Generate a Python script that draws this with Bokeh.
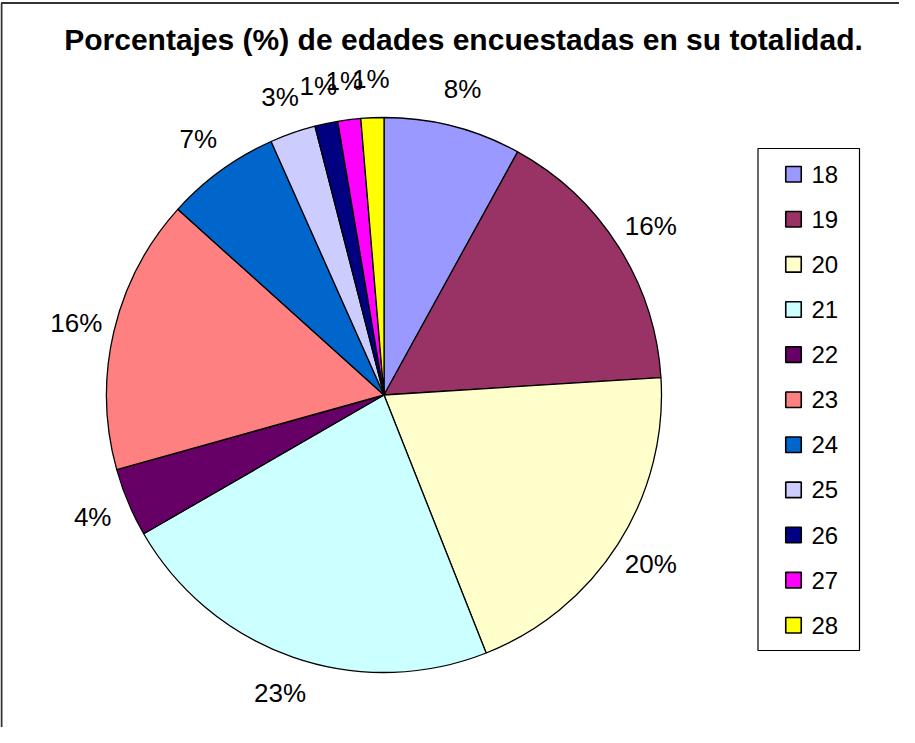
import math
from bokeh.plotting import figure
from bokeh.models import ColumnDataSource
from bokeh.core.properties import value
from bokeh.embed import file_html
from bokeh.resources import INLINE

# ---- data ----
ages = ["18", "19", "20", "21", "22", "23", "24", "25", "26", "27", "28"]
counts = [6, 12, 15, 17, 3, 12, 5, 2, 1, 1, 1]
colors = ["#9999FF", "#993366", "#FFFFCC", "#CCFFFF", "#660066", "#FF8080",
          "#0066CC", "#CCCCFF", "#000080", "#FF00FF", "#FFFF00"]
title_text = "Porcentajes (%) de edades encuestadas en su totalidad."

W, H = 899, 727
FONT = "Liberation Sans"

total = sum(counts)
fracs = [c / total for c in counts]
cum = [0.0]
for f in fracs:
    cum.append(cum[-1] + f)

cx, cy, R = 383.5, 332.5, 277.5
starts = [math.pi / 2 - 2 * math.pi * cum[i + 1] for i in range(len(counts))]
ends = [math.pi / 2 - 2 * math.pi * cum[i] for i in range(len(counts))]
mids = [math.pi / 2 - 2 * math.pi * (cum[i] + cum[i + 1]) / 2 for i in range(len(counts))]
RL = 316
labels = ["%d%%" % round(100 * f) for f in fracs]

src = ColumnDataSource(dict(
    age=ages, start=starts, end=ends, color=colors, label=labels,
    lx=[cx + RL * math.cos(a) for a in mids],
    ly=[cy + RL * math.sin(a) for a in mids],
))

p = figure(width=W, height=H, x_range=(0, W), y_range=(0, H),
           x_axis_type=None, y_axis_type=None, toolbar_location=None,
           output_backend="svg", min_border=0, outline_line_color=None,
           background_fill_color="white", border_fill_color="white")

# outer chart border (extends past the visible window on right/bottom)
p.quad(left=1, right=W + 50, bottom=-50, top=724.5, fill_color=None,
       line_color="#333333", line_width=2)

p.wedge(x=cx, y=cy, radius=R, start_angle="start", end_angle="end",
        direction="anticlock", fill_color="color", line_color="black",
        line_width=1.3, source=src)

p.text(x="lx", y="ly", text="label", source=src, text_align="center",
       text_baseline="middle", text_font=value(FONT), text_font_size="26px",
       text_color="black")

p.text(x=[463], y=[688], text=[title_text], text_align="center",
       text_baseline="alphabetic", text_font=value(FONT), text_font_size="30px",
       text_font_style="bold", text_color="black")

# legend
lx0, lx1, ly_top, ly_bot = 757.5, 859, 579, 77
p.quad(left=lx0, right=lx1, bottom=ly_bot, top=ly_top, fill_color="white",
       line_color="black", line_width=1.2)
step = 45.1
leg_y = [553.3 - i * step for i in range(len(ages))]
leg = ColumnDataSource(dict(y=leg_y, color=colors, age=ages))
p.rect(x=793, y="y", width=15.5, height=15.5, fill_color="color",
       line_color="black", line_width=1.6, source=leg)
p.text(x=811, y="y", text="age", source=leg, text_align="left",
       text_baseline="middle", text_font=value(FONT), text_font_size="24px",
       text_color="black")

open("out.html", "w").write(file_html(p, INLINE))
